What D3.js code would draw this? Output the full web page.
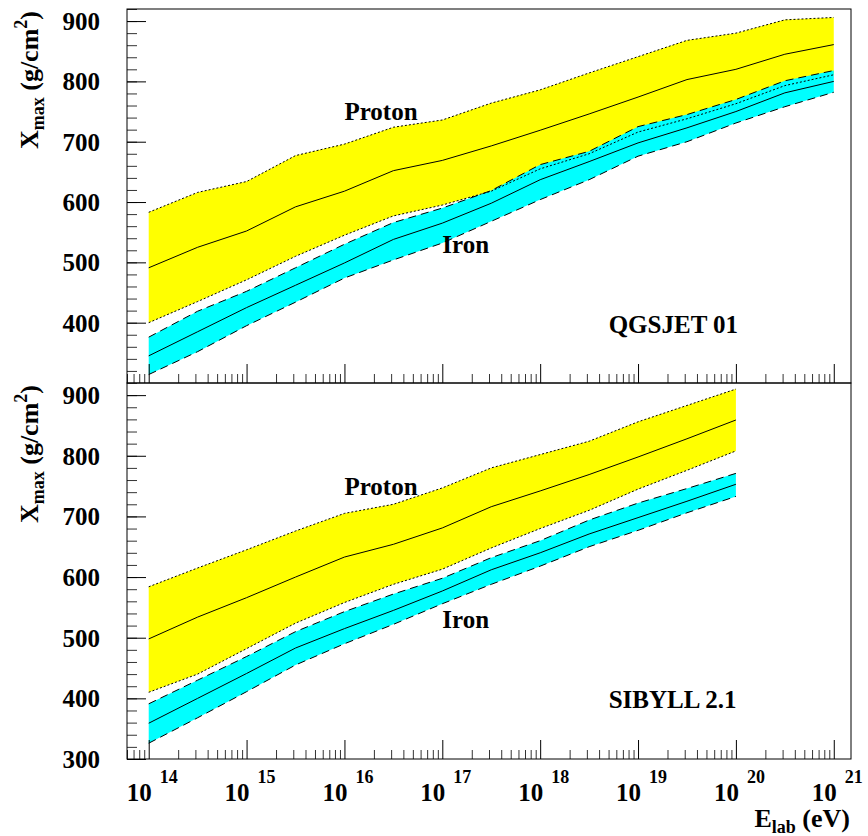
<!DOCTYPE html>
<html>
<head>
<meta charset="utf-8">
<script src="https://cdn.jsdelivr.net/npm/d3@7"></script>
<style>
body { margin: 0; background: #fff; }
#chart text { font-family: "Liberation Serif", "Times New Roman", Times, "DejaVu Serif", serif !important; font-weight: bold; fill: #000; }
</style>
</head>
<body>
<svg id="chart" width="868" height="836"></svg>
<script>
// log10(E/eV) of the simulated energies
var logE = [14, 14.5, 15, 15.5, 16, 16.5, 17, 17.5, 18, 18.5, 19, 19.5, 20, 20.5, 21];

// QGSJET 01 : Xmax (g/cm2), band = mean +- spread
var qgsProtonUp   = [583, 616, 634, 677, 696, 724, 736, 764, 786, 814, 841, 868, 880, 902, 906];
var qgsProtonMean = [491, 525, 552, 592, 618, 652, 669, 693, 719, 746, 774, 803, 820, 845, 861];
var qgsProtonLow  = [400, 435, 471, 510, 545, 577, 595, 618, 655, 680, 716, 738, 763, 793, 811];
var qgsIronUp     = [376, 419, 452, 491, 530, 566, 590, 619, 662, 684, 725, 745, 770, 801, 818];
var qgsIronMean   = [345, 385, 425, 462, 499, 538, 565, 598, 637, 667, 698, 723, 750, 781, 800];
var qgsIronLow    = [314, 352, 395, 434, 474, 504, 532, 568, 604, 637, 676, 700, 731, 758, 782];

// SIBYLL 2.1 (stops at 10^20 eV)
var sibProtonUp   = [584, 615, 645, 676, 705, 720, 747, 780, 802, 824, 856, 883, 910];
var sibProtonMean = [498, 534, 566, 600, 633, 654, 681, 716, 742, 769, 798, 828, 859];
var sibProtonLow  = [410, 440, 482, 524, 558, 588, 613, 648, 680, 710, 745, 776, 808];
var sibIronUp     = [391, 430, 469, 510, 543, 572, 598, 632, 660, 694, 722, 746, 771];
var sibIronMean   = [359, 400, 441, 483, 515, 545, 577, 612, 640, 671, 698, 725, 753];
var sibIronLow    = [326, 368, 411, 455, 490, 522, 556, 588, 618, 650, 677, 706, 733];

// axis setup
var xDomain = [6e13, 1.5e21];
var yDomain = [300, 920];
var yMajor = [300, 400, 500, 600, 700, 800, 900];
var decades = [14, 15, 16, 17, 18, 19, 20, 21];

var svg = d3.select("#chart");
var left = 127, right = 851;
var panelTops = [9, 383], panelBottoms = [383, 759];

var x = d3.scaleLog().domain(xDomain).range([left, right]);

function rows(up, mean, low) {
    var out = [];
    for (var i = 0; i < up.length; i++) {
        out.push({ e: Math.pow(10, logE[i]), up: up[i], mean: mean[i], low: low[i] });
    }
    return out;
}

var panels = [
    { name: "QGSJET 01", labelE: 18.7, labelY: 383,
      proton: rows(qgsProtonUp, qgsProtonMean, qgsProtonLow),
      iron: rows(qgsIronUp, qgsIronMean, qgsIronLow), minLabel: 400 },
    { name: "SIBYLL 2.1", labelE: 18.7, labelY: 384,
      proton: rows(sibProtonUp, sibProtonMean, sibProtonLow),
      iron: rows(sibIronUp, sibIronMean, sibIronLow), minLabel: 300 }
];

panels.forEach(function (p, idx) {
    var top = panelTops[idx], bottom = panelBottoms[idx];
    var y = d3.scaleLinear().domain(yDomain).range([bottom, top]);
    var g = svg.append("g");

    var area = d3.area().x(function (d) { return x(d.e); })
        .y0(function (d) { return y(d.low); })
        .y1(function (d) { return y(d.up); });
    var line = function (key) {
        return d3.line().x(function (d) { return x(d.e); }).y(function (d) { return y(d[key]); });
    };

    // fills first, then all the lines on top
    g.append("path").datum(p.proton).attr("d", area).attr("fill", "#ffff00");
    g.append("path").datum(p.iron).attr("d", area).attr("fill", "#00ffff");

    [["proton", "up", "2,2"], ["proton", "low", "2,2"], ["proton", "mean", null],
     ["iron", "up", "8,5"], ["iron", "low", "8,5"], ["iron", "mean", null]].forEach(function (s) {
        g.append("path").datum(p[s[0]]).attr("d", line(s[1]))
            .attr("fill", "none").attr("stroke", "#000").attr("stroke-width", 1)
            .attr("stroke-dasharray", s[2]);
    });

    // y axis
    var yMinor = d3.range(yDomain[0], yDomain[1] + 1, 20);
    g.append("g").attr("transform", "translate(" + left + ",0)")
        .call(d3.axisLeft(y).tickValues(yMinor).tickSize(-10).tickFormat(""))
        .call(function (a) { a.select(".domain").remove(); a.selectAll("line").attr("stroke", "#333"); });
    var ya = g.append("g").attr("transform", "translate(" + left + ",0)")
        .call(d3.axisLeft(y).tickValues(yMajor.filter(function (v) { return v >= p.minLabel; }))
            .tickSize(-19).tickPadding(27).tickFormat(d3.format("d")));
    ya.select(".domain").remove();
    ya.selectAll("line").attr("stroke", "#000");
    ya.attr("font-family", null).attr("font-size", null);
    ya.selectAll("text").attr("font-size", 25).attr("dy", "0.34em");

    // x axis (ticks inside, pointing up)
    var xt = x.ticks();
    var xa = g.append("g").attr("transform", "translate(0," + bottom + ")")
        .call(d3.axisBottom(x).tickValues(xt.filter(function (v) {
            return Math.abs(Math.log10(v) - Math.round(Math.log10(v))) > 1e-6;
        })).tickSize(-9).tickFormat(""));
    xa.select(".domain").remove();
    xa.selectAll("line").attr("stroke", "#333");
    var xm = g.append("g").attr("transform", "translate(0," + bottom + ")")
        .call(d3.axisBottom(x).tickValues(decades.map(function (d) { return Math.pow(10, d); }))
            .tickSize(-19).tickFormat(""));
    xm.select(".domain").remove();
    xm.selectAll("line").attr("stroke", "#000");

    // frame
    g.append("rect").attr("x", left).attr("y", top).attr("width", right - left)
        .attr("height", bottom - top).attr("fill", "none").attr("stroke", "#000")
        .attr("stroke-width", 1);

    // y title
    var yt = g.append("text").attr("transform", "translate(38," + (top + 2) + ") rotate(-90)")
        .attr("text-anchor", "end").attr("font-size", 26);
    yt.append("tspan").text("X");
    yt.append("tspan").attr("font-size", 18).attr("dy", 6).text("max");
    yt.append("tspan").attr("dy", -6).text(" (g/cm");
    yt.append("tspan").attr("font-size", 18).attr("dy", -11).text("2");
    yt.append("tspan").attr("dy", 11).text(")");

    // band and model labels
    g.append("text").attr("x", x(1e16)).attr("y", y(736)).attr("font-size", 25).text("Proton");
    g.append("text").attr("x", x(1e17)).attr("y", y(516)).attr("font-size", 25).text("Iron");
    g.append("text").attr("x", x(Math.pow(10, p.labelE))).attr("y", y(p.labelY))
        .attr("font-size", 25).text(p.name);

    // x labels only on the lower panel
    if (idx === 1) {
        decades.forEach(function (d) {
            var xp = x(Math.pow(10, d));
            g.append("text").attr("x", xp + 3).attr("y", 801).attr("text-anchor", "end")
                .attr("font-size", 25).text("10");
            g.append("text").attr("x", xp + 11).attr("y", 783).attr("font-size", 18).text(d);
        });
        var xtitle = g.append("text").attr("x", 850).attr("y", 827).attr("text-anchor", "end")
            .attr("font-size", 26);
        xtitle.append("tspan").text("E");
        xtitle.append("tspan").attr("font-size", 18).attr("dy", 6).text("lab");
        xtitle.append("tspan").attr("dy", -6).text(" (eV)");
    }
});
</script>
</body>
</html>
